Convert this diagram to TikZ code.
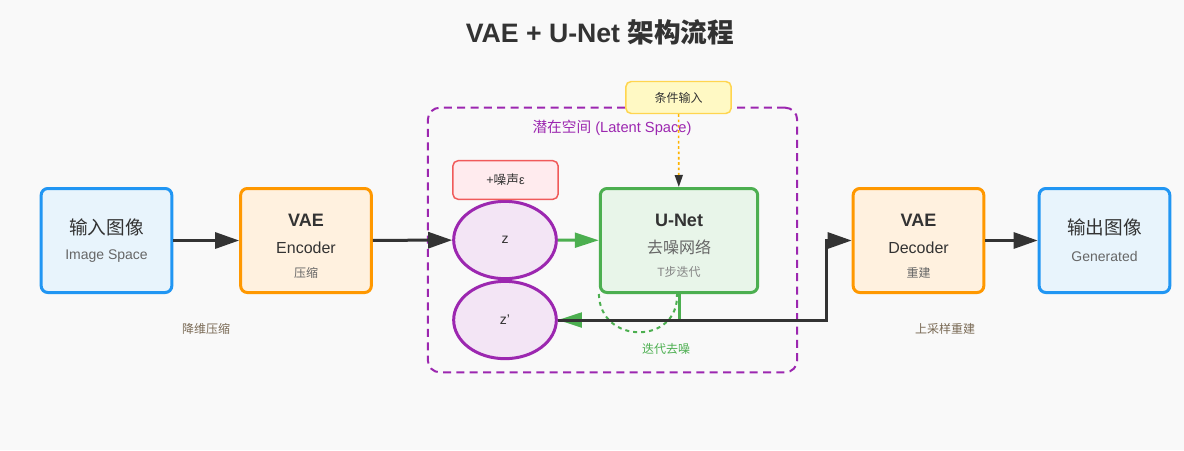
\documentclass[tikz,border=0pt]{standalone}
\usepackage{fontspec}
\setmainfont{Liberation Sans}
\newfontfamily\cjk{Noto Sans CJK SC}
\usepackage{tikz}
\usepackage{xcolor}
\usetikzlibrary{
    arrows.meta,
    shapes.geometric
}

\definecolor{bgc}{HTML}{F9F9F9}
\definecolor{ink}{HTML}{333333}
\definecolor{sub}{HTML}{666666}
\definecolor{imgline}{HTML}{2196F3}
\definecolor{imgfill}{HTML}{E8F4FC}
\definecolor{vaeline}{HTML}{FF9800}
\definecolor{vaefill}{HTML}{FFF1DF}
\definecolor{unetline}{HTML}{4CAF50}
\definecolor{unetfill}{HTML}{E8F5E9}
\definecolor{latline}{HTML}{9C27B0}
\definecolor{latfill}{HTML}{F3E5F5}
\definecolor{noiseline}{HTML}{F05A5A}
\definecolor{noisefill}{HTML}{FFEBEE}
\definecolor{condline}{HTML}{FFD54F}
\definecolor{condfill}{HTML}{FFF9C4}
\definecolor{conddot}{HTML}{FFB300}
\definecolor{note}{HTML}{7A6A55}

\tikzset{
    box/.style={draw, rounded corners=5pt, line width=2.25pt, minimum width=98pt, minimum height=78pt},
    small/.style={draw, rounded corners=4pt, line width=1.1pt},
    big/.style={font=\fontsize{14}{16}\selectfont, text=ink},
    head/.style={font=\fontsize{13.5}{16}\selectfont\bfseries, text=ink},
    mid/.style={font=\fontsize{12}{14}\selectfont, text=ink},
    tiny/.style={font=\fontsize{9}{11}\selectfont, text=sub},
    flow/.style={draw=ink, line width=2.25pt, -{Triangle[length=18pt, width=12pt]}},
}

\begin{document}
\begin{tikzpicture}[x=0.75pt, y=-0.75pt]
                        \fill[bgc] (0, 0) rectangle (1184, 450);
                        \node[font=\fontsize{20}{24}\selectfont\bfseries, text=ink] (title) at (600, 32) {VAE + U-Net {\cjk 架构流程}};

                        % latent space frame
                        \node[draw=latline, line width=1.5pt, dash pattern=on 6pt off 4pt, rounded corners=9pt,
                            minimum width=277pt, minimum height=198.5pt] (lat) at (612.5, 240) {};
                        \node[font=\fontsize{11}{13}\selectfont, text=latline] (latname) at (612, 128) {{\cjk 潜在空间} (Latent Space)};

                        % boxes
                        \node[box, draw=imgline, fill=imgfill] (inp) at (106.5, 240.5) {};
                        \node[big] at (106.5, 227) {\cjk 输入图像};
                        \node[font=\fontsize{10.5}{13}\selectfont, text=sub] at (106.5, 256) {Image Space};

                        \node[box, draw=vaeline, fill=vaefill] (enc) at (306, 240.5) {};
                        \node[head] at (306, 220) {VAE};
                        \node[mid] at (306, 248) {Encoder};
                        \node[tiny] at (306, 273) {\cjk 压缩};

                        \node[box, draw=unetline, fill=unetfill, minimum width=118pt] (unet) at (679, 240.5) {};
                        \node[head] at (679, 220) {U-Net};
                        \node[mid, text=sub] at (679, 247) {\cjk 去噪网络};
                        \node[tiny, text=sub!80] at (679, 272) {T{\cjk 步迭代}};

                        \node[box, draw=vaeline, fill=vaefill] (dec) at (918.5, 240.5) {};
                        \node[head] at (918.5, 220) {VAE};
                        \node[mid] at (918.5, 248) {Decoder};
                        \node[tiny] at (918.5, 273) {\cjk 重建};

                        \node[box, draw=imgline, fill=imgfill] (out) at (1104.5, 240.5) {};
                        \node[big] at (1104.5, 227) {\cjk 输出图像};
                        \node[font=\fontsize{10.5}{13}\selectfont, text=sub] at (1104.5, 256) {Generated};

                        % latents
                        \node[draw=latline, fill=latfill, ellipse, line width=2.25pt, minimum width=77pt, minimum height=58pt,
                            font=\fontsize{10.5}{13}\selectfont, text=ink] (z) at (505, 240) {z};
                        \node[draw=latline, fill=latfill, ellipse, line width=2.25pt, minimum width=77pt, minimum height=58pt,
                            font=\fontsize{10.5}{13}\selectfont, text=ink] (zp) at (505, 320) {z'};
                        \node[small, draw=noiseline, fill=noisefill, minimum width=79pt, minimum height=29pt,
                            font=\fontsize{9.5}{12}\selectfont, text=ink] (noise) at (505.5, 180) {+{\cjk 噪声}ε};
                        \node[small, draw=condline, fill=condfill, minimum width=79pt, minimum height=24pt,
                            font=\fontsize{9}{11}\selectfont, text=ink] (cond) at (678.5, 97.5) {\cjk 条件输入};

                        % notes
                        \node[tiny, text=note] (n1) at (206, 329) {\cjk 降维压缩};
                        \node[tiny, text=note] (n2) at (945, 329) {\cjk 上采样重建};
                        \node[tiny, text=unetline] (n3) at (666, 349) {\cjk 迭代去噪};

                        \coordinate (turn) at (826, 320);

                        \draw
                        (inp) edge[flow] (enc)
                        (enc) edge[flow] (z)
                        (dec) edge[flow] (out)
                        (z) edge[draw=unetline, line width=2.25pt, -{Triangle[length=18pt, width=11pt]}] (unet)
                        (cond) edge[draw=conddot, line width=1.2pt, dash pattern=on 2pt off 2pt,
                            -{Triangle[length=9pt, width=6pt, color=ink]}] (unet);

                        \draw[unetline, line width=1.5pt, dash pattern=on 3pt off 3pt]
                        (unet.south west) .. controls (600, 345) and (679, 345) .. ([xshift=-1.5pt]unet.south);
                        \draw[unetline, line width=2.25pt, -{Triangle[length=18pt, width=11pt]}]
                        (unet.south) -- (unet.south |- zp) -- (zp.east);
                        \draw[ink, line width=2.25pt, -{Triangle[length=18pt, width=12pt]}]
                        (zp.east) -- (turn) |- (dec.west);
                    \end{tikzpicture}
\end{document}
